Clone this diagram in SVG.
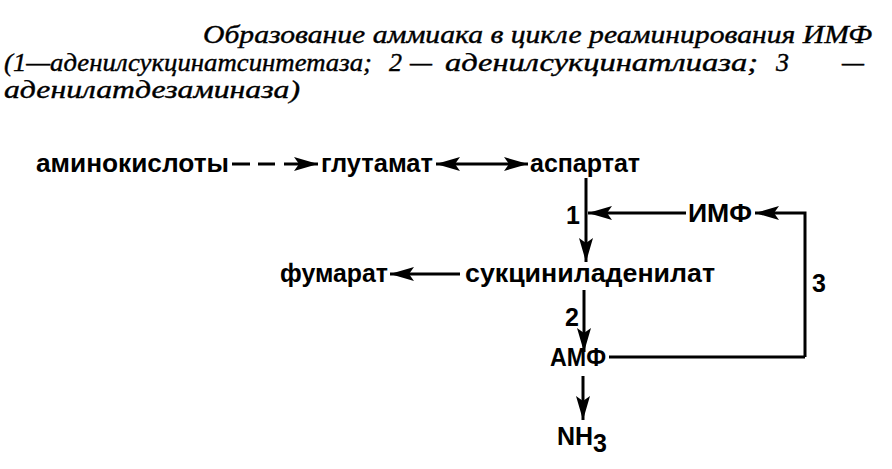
<svg xmlns="http://www.w3.org/2000/svg" width="892" height="469" viewBox="0 0 892 469">
<defs>
<marker id="ah" viewBox="0 0 24 14" refX="24" refY="7" markerWidth="24" markerHeight="14" markerUnits="userSpaceOnUse" orient="auto-start-reverse">
<path d="M0,0 L24,7 L0,14 L5,7 Z" fill="#000"/>
</marker>
</defs>
<style>
.t{font-family:"Liberation Serif","Times New Roman",serif;font-style:italic;font-size:26px;fill:#000;stroke:#000;stroke-width:0.4}
.n{font-family:"Liberation Sans",Arial,sans-serif;font-weight:bold;font-size:25px;fill:#000}
.c{fill:none;stroke:#000;stroke-width:3}
</style>
<rect width="892" height="469" fill="#fff"/>
<g id="title">
<text class="t" x="203" y="43" textLength="669" lengthAdjust="spacingAndGlyphs">Образование аммиака в цикле реаминирования ИМФ</text>
<text class="t" x="4" y="71" textLength="368" lengthAdjust="spacingAndGlyphs">(1—аденилсукцинатсинтетаза;</text>
<text class="t" x="389" y="71">2</text>
<text class="t" x="410" y="71" textLength="22" lengthAdjust="spacingAndGlyphs">—</text>
<text class="t" x="445" y="71" textLength="313" lengthAdjust="spacingAndGlyphs">аденилсукцинатлиаза;</text>
<text class="t" x="776" y="71">3</text>
<text class="t" x="842" y="71" textLength="22" lengthAdjust="spacingAndGlyphs">—</text>
<text class="t" x="4" y="98" textLength="296" lengthAdjust="spacingAndGlyphs">аденилатдезаминаза)</text>
</g>
<g id="connectors">
<path class="c" d="M232,164 H250 M258,164 H275" />
<path class="c" d="M284,164 H318" marker-end="url(#ah)"/>
<path class="c" d="M436,164 H528" marker-start="url(#ah)" marker-end="url(#ah)"/>
<path class="c" d="M586,178 V262" marker-end="url(#ah)"/>
<path class="c" d="M686,213 H588" marker-end="url(#ah)"/>
<path class="c" d="M805,357 V213 H755" marker-end="url(#ah)"/>
<path class="c" d="M609,357 H805"/>
<path class="c" d="M460,274 H390" marker-end="url(#ah)"/>
<path class="c" d="M584,290 V352" marker-end="url(#ah)"/>
<path class="c" d="M583,376 V420" marker-end="url(#ah)"/>
</g>
<g id="aminoacids"><text class="n" x="36" y="172" textLength="193" lengthAdjust="spacingAndGlyphs">аминокислоты</text></g>
<g id="glutamate"><text class="n" x="321" y="172" textLength="112" lengthAdjust="spacingAndGlyphs">глутамат</text></g>
<g id="aspartate"><text class="n" x="530" y="172" textLength="110" lengthAdjust="spacingAndGlyphs">аспартат</text></g>
<g id="imp"><text class="n" x="688" y="222" textLength="64" lengthAdjust="spacingAndGlyphs">ИМФ</text></g>
<g id="succinyladenylate"><text class="n" x="465" y="282" textLength="250" lengthAdjust="spacingAndGlyphs">сукциниладенилат</text></g>
<g id="fumarate"><text class="n" x="280" y="282" textLength="108" lengthAdjust="spacingAndGlyphs">фумарат</text></g>
<g id="amp"><text class="n" x="550" y="366" textLength="56" lengthAdjust="spacingAndGlyphs">АМФ</text></g>
<g id="nh3"><text class="n" x="557" y="445">NH<tspan dy="7">3</tspan></text></g>
<g id="labels">
<text class="n" x="566" y="224">1</text>
<text class="n" x="565" y="326">2</text>
<text class="n" x="812" y="292">3</text>
</g>
</svg>
